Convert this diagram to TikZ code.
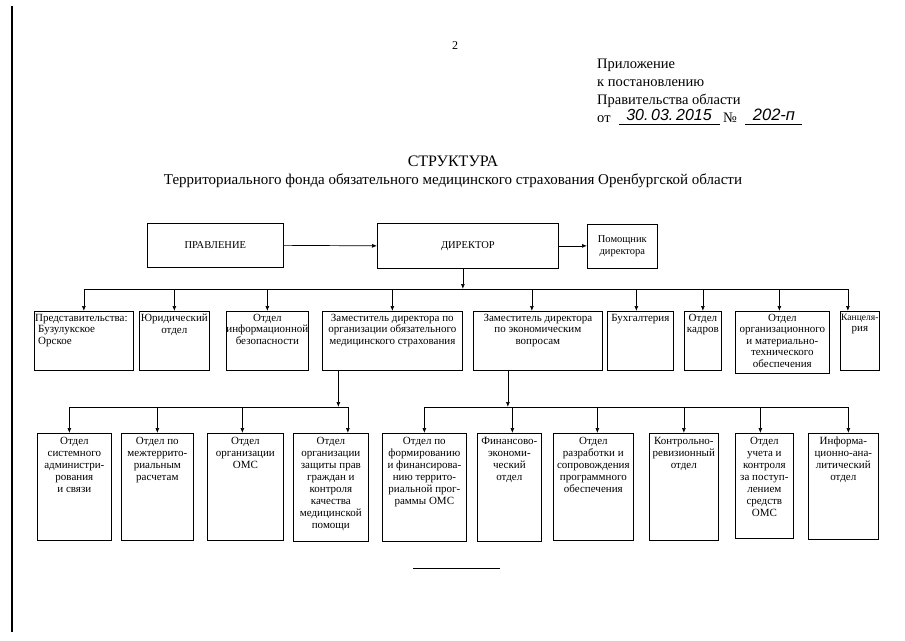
\documentclass[tikz,border=0pt]{standalone}
\usepackage{fontspec}
\setmainfont{Liberation Serif}
\newfontfamily\handfont{Liberation Sans}
\usetikzlibrary{arrows.meta}

\tikzset{
  unit/.style={draw, line width=0.7pt, inner sep=0pt, anchor=north west},
  unittext/.style={font=\fontsize{11}{11.5}\selectfont, align=center, anchor=north, inner sep=0pt, yshift=-2.8pt},
  link/.style={line width=0.7pt, -{Latex[length=5pt,width=4pt]}},
  bar/.style={line width=0.7pt},
}

% box: name, left, top, width, height, text
\newcommand{\unitbox}[6]{%
  \node[unit, minimum width=#4pt, minimum height=#5pt] (#1) at (#2,#3) {};
  \node[unittext] (#1-t) at (#1.north) {#6};
}

\begin{document}
\begin{tikzpicture}[x=1pt, y=-1pt]
\useasboundingbox (0,0) rectangle (905,640);

% Scan edge
\draw[line width=2pt] (12,6) -- (12,632);

% Header
\node[font=\fontsize{12}{14}\selectfont] (page) at (455,46) {2};
\node[anchor=base west, align=left, inner sep=0pt, font=\fontsize{14.5}{18}\selectfont] (appx) at (597,104)
  {Приложение\\к постановлению\\Правительства области};
\node[anchor=base west, inner sep=0pt, font=\fontsize{14.5}{18}\selectfont] (from) at (597,122) {от};
\node[anchor=base, font=\handfont\itshape\fontsize{16}{18}\selectfont] (date) at (669,120) {30.\,03.\,2015};
\node[anchor=base west, inner sep=0pt, font=\fontsize{14.5}{18}\selectfont] (numsign) at (723,122) {№};
\node[anchor=base, font=\handfont\itshape\fontsize{16.5}{18}\selectfont] (number) at (774,120) {202-п};
\draw[line width=0.6pt] (619,124) -- (720,124);
\draw[line width=0.6pt] (745,124) -- (802,124);

% Title
\node[font=\fontsize{16}{18}\selectfont] (title) at (453,161) {СТРУКТУРА};
\node[font=\fontsize{15}{18}\selectfont] (subtitle) at (453,181)
  {Территориального фонда обязательного медицинского страхования Оренбургской области};

% Top level
\node[unit, minimum width=136pt, minimum height=44pt, font=\fontsize{10.5}{11.5}\selectfont] (prav) at (147,223) {ПРАВЛЕНИЕ};
\node[unit, minimum width=181pt, minimum height=45pt, font=\fontsize{10.5}{11.5}\selectfont] (dir) at (377,223) {ДИРЕКТОР};
\node[unit, minimum width=70pt, minimum height=44pt, align=center, font=\fontsize{10.5}{12.5}\selectfont] (pom) at (587,224) {Помощник\\директора};
\draw[link] (prav.east) -- (dir.west);
\draw[link] (dir.east) -- (dir.east -| pom.west);

% Second level
\coordinate (bus) at (0,289);
\begin{scope}
\node[unit, minimum width=99pt, minimum height=59pt] (pred) at (34,311) {};
\node[unittext, align=left, anchor=north west, xshift=1pt] (pred-t) at (pred.north west)
  {Представительства:\\\hspace*{3pt}Бузулукское\\\hspace*{3pt}Орское};
\unitbox{jur}{139}{311}{70}{59}{Юридический\\отдел}
\unitbox{info}{226}{311}{82}{59}{Отдел\\информационной\\безопасности}
\unitbox{zam1}{322}{311}{140}{59}{Заместитель директора по\\организации обязательного\\медицинского страхования}
\unitbox{zam2}{473}{311}{129}{59}{Заместитель директора\\по экономическим\\вопросам}
\unitbox{buh}{607}{311}{66}{59}{Бухгалтерия}
\unitbox{kadr}{684}{311}{37}{59}{Отдел\\кадров}
\unitbox{org}{735}{311}{94}{62}{Отдел\\организационного\\и материально-\\технического\\обеспечения}
\unitbox{kanc}{840}{311}{39}{59}{\fontsize{9.6}{11.5}\selectfont Канцеля-\\рия}
\end{scope}

\draw[link] ([xshift=-5pt]dir.south) -- ([xshift=-5pt]dir.south |- bus);
\draw[bar] (pred.north |- bus) -- ([xshift=-12pt]kanc.north |- bus);
\foreach \b/\dx in {pred/0, jur/0, info/0, zam1/0, zam2/-6, buh/-4, kadr/0, org/-3, kanc/-12}
  \draw[link] ([xshift=\dx pt]\b.north |- bus) -- ([xshift=\dx pt]\b.north);

% Third level
\coordinate (lbus) at (0,407);
\begin{scope}[unittext/.append style={yshift=-1.2pt, font=\fontsize{11}{12}\selectfont}]
\unitbox{sys}{37}{433}{74}{107}{Отдел\\системного\\администри-\\рования\\и связи}
\unitbox{mezh}{121}{433}{72}{107}{Отдел по\\межтеррито-\\риальным\\расчетам}
\unitbox{omsd}{207}{433}{76}{107}{Отдел\\организации\\ОМС}
\unitbox{zash}{293}{433}{75}{108}{Отдел\\организации\\защиты прав\\граждан и\\контроля\\качества\\медицинской\\помощи}
\unitbox{form}{382}{433}{84}{108}{Отдел по\\формированию\\и финансирова-\\нию террито-\\риальной прог-\\раммы ОМС}
\unitbox{fin}{477}{433}{64}{108}{Финансово-\\экономи-\\ческий\\отдел}
\unitbox{razr}{553}{433}{80}{107}{Отдел\\разработки и\\сопровождения\\программного\\обеспечения}
\unitbox{kru}{649}{433}{69}{107}{Контрольно-\\ревизионный\\отдел}
\unitbox{uchet}{735}{433}{58}{105}{Отдел\\учета и\\контроля\\за поступ-\\лением\\средств\\ОМС}
\unitbox{inf}{808}{433}{70}{106}{Информа-\\ционно-ана-\\литический\\отдел}
\end{scope}

% Deputy (OMS) branch
\draw[link] ([xshift=-54pt]zam1.south) -- ([xshift=-54pt]zam1.south |- lbus);
\draw[bar] ([xshift=-5pt]sys.north |- lbus) -- ([xshift=17pt]zash.north |- lbus);
\foreach \b/\dx in {sys/-5, mezh/0, omsd/-3, zash/17}
  \draw[link] ([xshift=\dx pt]\b.north |- lbus) -- ([xshift=\dx pt]\b.north);

% Deputy (economics) branch
\draw[link] ([xshift=-30pt]zam2.south) -- ([xshift=-30pt]zam2.south |- lbus);
\draw[bar] (form.north |- lbus) -- ([xshift=5pt]inf.north |- lbus);
\foreach \b/\dx in {form/0, fin/3, razr/4, kru/0, uchet/-4, inf/5}
  \draw[link] ([xshift=\dx pt]\b.north |- lbus) -- ([xshift=\dx pt]\b.north);

% Closing rule
\draw[line width=0.6pt] (413,568) -- (500,568);

\end{tikzpicture}
\end{document}
